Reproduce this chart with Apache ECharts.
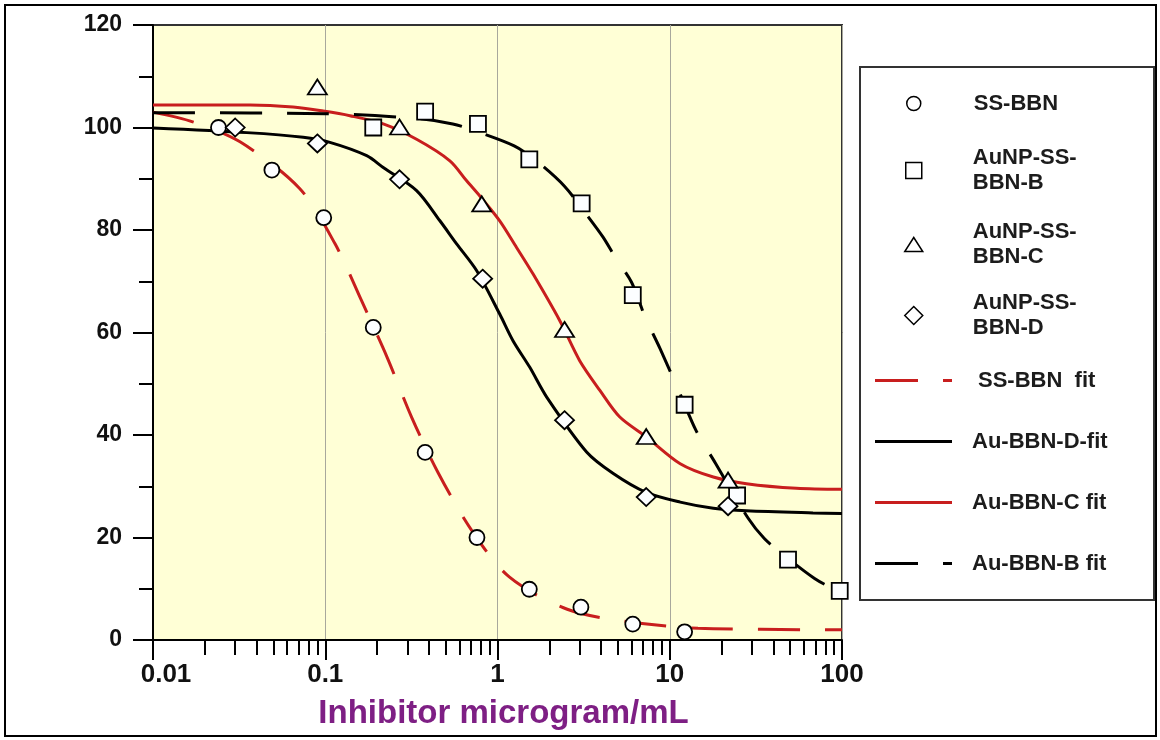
<!DOCTYPE html>
<html>
<head>
<meta charset="utf-8">
<title>Inhibition curves</title>
<script src="https://cdn.jsdelivr.net/npm/echarts@6/dist/echarts.min.js"></script>
<style>
  html, body { margin: 0; padding: 0; background: #ffffff; }
  #chart { width: 1160px; height: 740px; }
</style>
</head>
<body>
<div id="chart"></div>
<script>
// ---- measured points (concentration in microgram/mL, % activity) ----
const ssX = [0.024, 0.049, 0.098, 0.19, 0.38, 0.76, 1.53, 3.05, 6.1, 12.2];
const ssY = [100, 91.7, 82.4, 61.0, 36.6, 20.0, 9.9, 6.4, 3.1, 1.6];

const bX = [0.19, 0.38, 0.77, 1.53, 3.08, 6.1, 12.2, 24.6, 48.6, 97];
const bY = [100.0, 103.1, 100.7, 93.8, 85.2, 67.3, 45.9, 28.2, 15.7, 9.6];

const cX = [0.09, 0.27, 0.81, 2.45, 7.3, 21.8];
const cY = [107.9, 100.1, 85.1, 60.6, 39.7, 31.2];

const dX = [0.030, 0.09, 0.27, 0.82, 2.45, 7.3, 21.8];
const dY = [100, 96.9, 89.9, 70.5, 42.9, 27.9, 26.1];

// ---- fitted curves ----
const ssFitX = [0.01, 0.017, 0.032, 0.071, 0.114, 0.1625, 0.229, 0.317, 0.453, 0.708, 1.17, 2.54, 5.61, 14.6, 100];
const ssFitY = [103, 101.1, 97.2, 88.1, 77.3, 66.2, 55.1, 43.5, 32.6, 21.4, 12.3, 6.0, 3.6, 2.3, 2.0];

const dFitX = [0.01, 0.035, 0.0745, 0.1064, 0.174, 0.217, 0.339, 0.463, 0.579, 0.756, 1.03, 1.23, 1.54, 1.93, 3.29, 4.70, 7.3, 11.5, 17.9, 27.9, 67.9, 100];
const dFitY = [99.9, 99.0, 98.1, 97.1, 94.5, 92.2, 87.7, 81.8, 77.3, 72.1, 63.6, 58.4, 53.2, 47.4, 36.7, 32.5, 28.8, 26.9, 25.7, 25.2, 24.8, 24.7];

const cFitX = [0.01, 0.0366, 0.065, 0.0973, 0.139, 0.217, 0.339, 0.529, 0.662, 0.80, 1.03, 1.29, 1.61, 2.30, 3.0, 3.93, 5.13, 7.33, 11.5, 17.9, 27.9, 54.4, 100];
const cFitY = [104.4, 104.4, 104.0, 103.2, 102.3, 100.7, 97.7, 93.5, 89.6, 86.4, 81.8, 76.6, 71.4, 62.3, 54.5, 48.7, 43.5, 39.6, 34.4, 31.8, 30.5, 29.6, 29.4];

const bFitX = [0.01, 0.1, 0.33, 0.55, 0.79, 1.25, 1.68, 2.44, 3.27, 4.1, 4.88, 6.0, 7.2, 8.8, 11.6, 14.2, 18.5, 28.6, 35.4, 44.6, 69.3, 88.4, 100];
const bFitY = [102.9, 102.7, 101.8, 100.7, 99.0, 96.4, 93.5, 88.6, 83.1, 78.6, 74.4, 69.8, 63.0, 56.8, 47.7, 40.9, 34.4, 23.7, 19.8, 16.9, 12.0, 10.1, 9.6];

// ---- axis ticks ----
const xTickLabels = ['0.01', '0.1', '1', '10', '100'];
const xMinorTicks = [
  0.02, 0.03, 0.04, 0.05, 0.06, 0.07, 0.08, 0.09,
  0.2, 0.3, 0.4, 0.5, 0.6, 0.7, 0.8, 0.9,
  2, 3, 4, 5, 6, 7, 8, 9,
  20, 30, 40, 50, 60, 70, 80, 90
];

const RED = '#C81E1E';
const BLACK = '#000000';
const FONT = '"Liberation Sans", Arial, sans-serif';

const zip = (xs, ys) => xs.map((x, i) => [x, ys[i]]);

function markerSeries(name, xs, ys, symbol, size) {
  return {
    name, type: 'scatter', data: zip(xs, ys), symbol, symbolSize: size, z: 5,
    itemStyle: { color: '#FCFEFF', borderColor: BLACK, borderWidth: 1.8, opacity: 1 },
    emphasis: { disabled: true }
  };
}

function fitSeries(name, xs, ys, color, dashed) {
  return {
    name, type: 'line', data: zip(xs, ys), symbol: 'none', smooth: 0.3, z: 3,
    itemStyle: { color },
    lineStyle: { color, width: 3, type: dashed ? [42, 25] : 'solid', cap: 'butt' },
    emphasis: { disabled: true }
  };
}

// One legend block per entry so each row sits at its own height
const legendLabel = {
  'SS-BBN': ['SS-BBN'],
  'AuNP-SS-BBN-B': ['AuNP-SS-', 'BBN-B'],
  'AuNP-SS-BBN-C': ['AuNP-SS-', 'BBN-C'],
  'AuNP-SS-BBN-D': ['AuNP-SS-', 'BBN-D'],
  'SS-BBN  fit': ['SS-BBN  fit'],
  'Au-BBN-D-fit': ['Au-BBN-D-fit'],
  'Au-BBN-C fit': ['Au-BBN-C fit'],
  'Au-BBN-B fit': ['Au-BBN-B fit']
};
const LINE_H = 25;
const DASH_ICON = 'path://M0,0H43V3H0Z M68,0H77V3H68Z';
const SOLID_ICON = 'path://M0,0H77V3H0Z';

function legendEntry(name, iconCenterX, centerY, w, h, textX, icon, itemStyle) {
  const lines = legendLabel[name];
  const left = iconCenterX - w / 2;
  const pad = textX - (left + w + 5);
  const entry = {
    show: true, orient: 'vertical', padding: 0, itemGap: 0,
    left, top: centerY - (lines.length * LINE_H) / 2,
    itemWidth: w, itemHeight: h, selectedMode: false,
    data: [icon ? { name, icon } : { name }],
    formatter: (n) => legendLabel[n].map(l => '{t|' + l + '}').join('\n'),
    textStyle: {
      rich: {
        t: { fontFamily: FONT, fontSize: 22, fontWeight: 'bold', color: '#1c1c1c',
             lineHeight: LINE_H, padding: [0, 0, 0, pad] }
      }
    }
  };
  if (itemStyle) entry.itemStyle = itemStyle;
  return entry;
}

const markerLegendStyle = { color: '#FFFFFF', borderColor: BLACK, borderWidth: 1.5 };

const option = {
  animation: false,
  backgroundColor: '#FFFFFF',
  grid: {
    left: 153, top: 25, width: 689, height: 615,
    show: true, backgroundColor: '#FFFFD6', borderColor: '#333333', borderWidth: 2
  },
  xAxis: [
    {
      type: 'log', logBase: 10, min: 0.01, max: 100,
      name: 'Inhibitor microgram/mL', nameLocation: 'middle', nameGap: 57,
      nameTextStyle: { fontFamily: FONT, fontSize: 33, fontWeight: 'bold', color: '#7E1F84', padding: [0, 0, 0, 12] },
      axisLine: { show: true, onZero: false, lineStyle: { color: BLACK, width: 2 } },
      axisTick: { show: true, inside: false, length: 20, lineStyle: { color: BLACK, width: 2 } },
      minorTick: { show: false },
      axisLabel: {
        margin: 22, color: '#111111', fontFamily: FONT, fontSize: 26, fontWeight: 'bold',
        formatter: (v) => {
          const label = xTickLabels[Math.round(Math.log10(v)) + 2];
          return label === xTickLabels[0] ? '{first|' + label + '}' : label;
        },
        rich: {
          first: { fontFamily: FONT, fontSize: 26, fontWeight: 'bold', color: '#111111', padding: [0, 0, 0, 26] }
        }
      },
      splitLine: { show: true, lineStyle: { color: '#A8A89C', width: 1 } }
    },
    {
      // minor decade ticks (2..9 in every decade)
      type: 'log', logBase: 10, min: 0.01, max: 100, position: 'bottom', gridIndex: 0,
      axisLine: { show: false },
      axisLabel: { show: false },
      splitLine: { show: false },
      axisTick: { show: true, inside: false, length: 15, customValues: xMinorTicks, lineStyle: { color: BLACK, width: 2 } }
    }
  ],
  yAxis: {
    type: 'value', min: 0, max: 120, interval: 20,
    axisLine: { show: true, lineStyle: { color: BLACK, width: 2 } },
    axisTick: { show: true, inside: false, length: 20, lineStyle: { color: BLACK, width: 2 } },
    minorTick: { show: true, splitNumber: 2, length: 14, lineStyle: { color: BLACK, width: 2 } },
    axisLabel: { margin: 31, color: '#111111', fontFamily: FONT, fontSize: 23, fontWeight: 'bold' },
    splitLine: { show: false }
  },
  legend: [
    legendEntry('SS-BBN', 913, 105, 14, 14, 973, null, markerLegendStyle),
    legendEntry('AuNP-SS-BBN-B', 913, 172, 16, 16, 972, null, markerLegendStyle),
    legendEntry('AuNP-SS-BBN-C', 913, 246, 18, 14, 972, null, markerLegendStyle),
    legendEntry('AuNP-SS-BBN-D', 913, 317, 18, 18, 972, null, markerLegendStyle),
    legendEntry('SS-BBN  fit', 913.5, 382, 77, 3, 978, DASH_ICON, { borderWidth: 0 }),
    legendEntry('Au-BBN-D-fit', 913.5, 443, 77, 3, 972, SOLID_ICON, { borderWidth: 0 }),
    legendEntry('Au-BBN-C fit', 913.5, 504, 77, 3, 972, SOLID_ICON, { borderWidth: 0 }),
    legendEntry('Au-BBN-B fit', 913.5, 565, 77, 3, 972, DASH_ICON, { borderWidth: 0 })
  ],
  graphic: [
    { type: 'rect', shape: { x: 5, y: 5, width: 1151, height: 731 }, silent: true, z: -10,
      style: { fill: 'none', stroke: '#000000', lineWidth: 2 } },
    { type: 'rect', shape: { x: 860, y: 67, width: 294, height: 533 }, silent: true, z: -5,
      style: { fill: '#FFFFFF', stroke: '#333333', lineWidth: 2 } }
  ],
  series: [
    fitSeries('SS-BBN  fit', ssFitX, ssFitY, RED, true),
    fitSeries('Au-BBN-D-fit', dFitX, dFitY, BLACK, false),
    fitSeries('Au-BBN-C fit', cFitX, cFitY, RED, false),
    fitSeries('Au-BBN-B fit', bFitX, bFitY, BLACK, true),
    markerSeries('SS-BBN', ssX, ssY, 'circle', 15),
    markerSeries('AuNP-SS-BBN-B', bX, bY, 'rect', 16),
    markerSeries('AuNP-SS-BBN-C', cX, cY, 'triangle', [19, 15]),
    markerSeries('AuNP-SS-BBN-D', dX, dY, 'diamond', [19, 18])
  ]
};

const chart = echarts.init(document.getElementById('chart'), null, { renderer: 'canvas' });
chart.setOption(option);
</script>
</body>
</html>
